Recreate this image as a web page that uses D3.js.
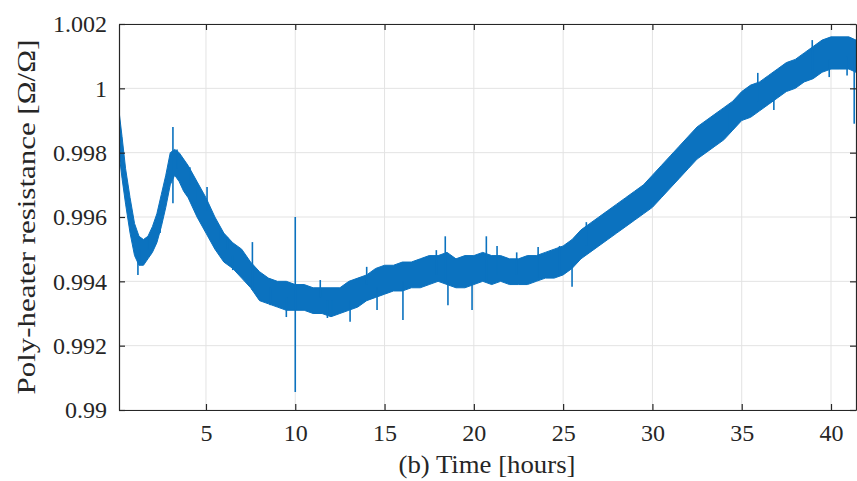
<!DOCTYPE html>
<html lang="en">
  <head>
    <meta charset="UTF-8">
    <script type="text/javascript" src="https://cdn.jsdelivr.net/npm/d3@7"></script>
    <style>
      body { margin: 0; background: #fff; }
    </style>
    <title>Poly-heater resistance</title>
  </head>
  <body>
    <script type="text/javascript">
      // Poly-heater resistance drift over time: noisy trace drawn as an envelope band

      let w = 857;
      let h = 481;
      let margin = { top: 24, right: 1, bottom: 71, left: 119 };

      // time [hours] with upper / lower edges of the noisy band
      let hours = [0.13, 0.3, 0.5, 0.75, 1.0, 1.25, 1.5, 1.75, 2.0, 2.25, 2.5, 2.75, 3.0, 3.25, 3.5,
                   3.75, 4.0, 4.5, 5.0, 5.5, 6.0, 6.5, 7.0, 7.5, 8.0, 8.5, 9.0, 9.5, 10.0, 10.5,
                   11.0, 11.5, 12.0, 12.5, 13.0, 13.5, 14.0, 14.5, 15.0, 15.5, 16.0, 16.5, 17.0,
                   17.5, 18.0, 18.5, 19.0, 19.5, 20.0, 20.5, 21.0, 21.5, 22.0, 22.5, 23.0, 23.5,
                   24.0, 24.5, 25.0, 25.5, 26.0, 26.5, 27.0, 27.5, 28.0, 28.5, 29.0, 29.5, 30.0,
                   30.5, 31.0, 31.5, 32.0, 32.5, 33.0, 33.5, 34.0, 34.5, 35.0, 35.5, 36.0, 36.5,
                   37.0, 37.5, 38.0, 38.5, 39.0, 39.5, 40.0, 40.5, 41.0, 41.4];
      let upper = [0.9993, 0.9985, 0.9975, 0.9966, 0.9958, 0.9954, 0.9953, 0.9954, 0.9957, 0.9961,
                   0.9967, 0.9973, 0.9980, 0.9981, 0.9980, 0.9978, 0.9976, 0.9971, 0.9966, 0.9960,
                   0.9955, 0.9952, 0.9950, 0.9946, 0.9943, 0.9941, 0.9940, 0.9940, 0.9939, 0.9939,
                   0.9938, 0.9938, 0.9938, 0.9938, 0.9940, 0.9941, 0.9942, 0.9944, 0.9945, 0.9945,
                   0.9946, 0.9946, 0.9947, 0.9948, 0.9948, 0.9949, 0.9947, 0.9948, 0.9948, 0.9949,
                   0.9948, 0.9948, 0.9947, 0.9947, 0.9948, 0.9948, 0.9949, 0.9950, 0.9951, 0.9953,
                   0.9956, 0.9958, 0.9960, 0.9962, 0.9964, 0.9966, 0.9968, 0.9970, 0.9973, 0.9976,
                   0.9979, 0.9982, 0.9985, 0.9988, 0.9990, 0.9992, 0.9994, 0.9996, 0.9999, 1.0001,
                   1.0002, 1.0004, 1.0006, 1.0008, 1.0009, 1.0011, 1.0013, 1.0015, 1.0016, 1.0016,
                   1.0016, 1.0015];
      let lower = [0.9980, 0.9972, 0.9964, 0.9955, 0.9948, 0.9945, 0.9945, 0.9947, 0.9949, 0.9952,
                   0.9957, 0.9963, 0.9970, 0.9973, 0.9971, 0.9968, 0.9966, 0.9960, 0.9955, 0.9950,
                   0.9946, 0.9944, 0.9941, 0.9938, 0.9934, 0.9933, 0.9932, 0.9931, 0.9931, 0.9931,
                   0.9930, 0.9930, 0.9929, 0.9930, 0.9931, 0.9932, 0.9934, 0.9935, 0.9936, 0.9937,
                   0.9937, 0.9938, 0.9938, 0.9939, 0.9940, 0.9939, 0.9938, 0.9938, 0.9939, 0.9940,
                   0.9939, 0.9940, 0.9939, 0.9939, 0.9939, 0.9940, 0.9941, 0.9941, 0.9942, 0.9944,
                   0.9947, 0.9949, 0.9951, 0.9953, 0.9955, 0.9957, 0.9959, 0.9961, 0.9963, 0.9966,
                   0.9969, 0.9972, 0.9975, 0.9978, 0.9980, 0.9982, 0.9984, 0.9987, 0.9990, 0.9991,
                   0.9993, 0.9995, 0.9997, 0.9999, 1.0000, 1.0002, 1.0003, 1.0005, 1.0006, 1.0006,
                   1.0006, 1.0005];

      // spikes sticking out of the band: time, low end, high end
      let spikeHours = [0.13, 1.19, 1.3, 1.75, 2.43, 2.8, 3.15, 3.38, 4.1, 4.4, 5.06, 5.8, 6.2, 6.5,
                        7.6, 8.6, 9.5, 10.0, 11.4, 11.8, 12.06, 13.07, 14.0, 14.58, 16.03, 17.9,
                        18.4, 18.55, 19.9, 20.7, 21.3, 22.4, 23.6, 24.8, 25.5, 26.3, 34.3, 35.9,
                        36.8, 38.95, 39.9, 40.9, 41.3];
      let spikeLow   = [0.9978, 0.9942, 0.99457, 0.9950, 0.9955, 0.9968, 0.99643, 0.9975, 0.9970,
                        0.99643, 0.9962, 0.9953, 0.9950, 0.99435, 0.99373, 0.99326, 0.99289,
                        0.99056, 0.9935, 0.99286, 0.99302, 0.99274, 0.9939, 0.99311, 0.9928,
                        0.9942, 0.9940, 0.99326, 0.99311, 0.9940, 0.9942, 0.9942, 0.9941, 0.9942,
                        0.99383, 0.9951, 0.9987, 0.9996, 0.99933, 1.0005, 1.00035, 1.0004, 0.9989];
      let spikeHigh  = [0.9993, 0.9948, 0.9950, 0.99538, 0.99582, 0.99724, 0.9988, 0.9981, 0.99755,
                        0.9970, 0.99693, 0.9956, 0.99538, 0.9948, 0.99522, 0.9938, 0.9935,
                        0.9960, 0.99404, 0.9934, 0.9934, 0.9934, 0.99445, 0.9938, 0.9940,
                        0.99497, 0.9954, 0.9940, 0.9940, 0.9954, 0.9951, 0.9949, 0.99507, 0.9951,
                        0.9945, 0.99584, 0.9993, 1.00048, 0.9999, 1.0015, 1.0009, 1.0010, 1.0010];

      let xTicks = [5, 10, 15, 20, 25, 30, 35, 40];
      let yTicks = [0.99, 0.992, 0.994, 0.996, 0.998, 1, 1.002];
      let yTickLabels = ['0.99', '0.992', '0.994', '0.996', '0.998', '1', '1.002'];

      let xScale = d3.scaleLinear()
                      .domain([0.13, 41.4])
                      .range([margin.left, w - margin.right]);

      let yScale = d3.scaleLinear()
                      .domain([0.99, 1.002])
                      .range([h - margin.bottom, margin.top]);

      let svg = d3.select('body')
                  .append('svg')
                  .attr('width', w)
                  .attr('height', h);

      let x0 = xScale.range()[0], x1 = xScale.range()[1];
      let y0 = yScale.range()[0], y1 = yScale.range()[1];
      let serif = "'Liberation Serif', 'DejaVu Serif', serif";
      let ink = '#262626';

      // Grid
      svg.append('g')
          .selectAll('line')
          .data(xTicks)
          .enter()
          .append('line')
          .attr('x1', d => xScale(d)).attr('x2', d => xScale(d))
          .attr('y1', y1).attr('y2', y0)
          .attr('stroke', '#e3e3e3').attr('stroke-width', 1);

      svg.append('g')
          .selectAll('line')
          .data(yTicks)
          .enter()
          .append('line')
          .attr('x1', x0).attr('x2', x1)
          .attr('y1', d => yScale(d)).attr('y2', d => yScale(d))
          .attr('stroke', '#e3e3e3').attr('stroke-width', 1);

      // Data band
      let band = hours.map((t, i) => ({ t: t, hi: upper[i], lo: lower[i] }));
      let blue = '#0b72bf';

      svg.append('clipPath').attr('id', 'clip')
          .append('rect')
          .attr('x', x0).attr('y', y1)
          .attr('width', x1 - x0).attr('height', y0 - y1);

      let plot = svg.append('g').attr('clip-path', 'url(#clip)');

      plot.append('path')
          .datum(band)
          .attr('d', d3.area()
                       .x(d => xScale(d.t))
                       .y0(d => yScale(d.lo))
                       .y1(d => yScale(d.hi)))
          .attr('fill', blue)
          .attr('stroke', blue)
          .attr('stroke-width', 1);

      plot.selectAll('line.spike')
          .data(spikeHours)
          .enter()
          .append('line')
          .attr('class', 'spike')
          .attr('x1', d => xScale(d)).attr('x2', d => xScale(d))
          .attr('y1', (d, i) => yScale(spikeLow[i]))
          .attr('y2', (d, i) => yScale(spikeHigh[i]))
          .attr('stroke', blue)
          .attr('stroke-width', 1.6);

      // Axes: box with inward ticks on all four sides
      let tick = 6;
      let styleAxis = g => g.selectAll('line, path').attr('stroke', ink).attr('stroke-width', 1.2);
      let styleText = g => g.selectAll('text').attr('font-size', 24).attr('font-family', serif).attr('fill', ink);

      svg.append('g')
          .attr('transform', 'translate(0,' + y0 + ')')
          .call(d3.axisBottom(xScale).tickValues(xTicks).tickSizeInner(-tick).tickSizeOuter(0).tickPadding(14))
          .call(styleText).call(styleAxis);

      svg.append('g')
          .attr('transform', 'translate(0,' + y1 + ')')
          .call(d3.axisTop(xScale).tickValues(xTicks).tickSizeInner(-tick).tickSizeOuter(0).tickFormat(''))
          .call(styleAxis);

      svg.append('g')
          .attr('transform', 'translate(' + x0 + ',0)')
          .call(d3.axisLeft(yScale).tickValues(yTicks).tickSizeInner(-tick).tickSizeOuter(0).tickPadding(12)
                  .tickFormat((d, i) => yTickLabels[i]))
          .call(styleText).call(styleAxis);

      svg.append('g')
          .attr('transform', 'translate(' + x1 + ',0)')
          .call(d3.axisRight(yScale).tickValues(yTicks).tickSizeInner(-tick).tickSizeOuter(0).tickFormat(''))
          .call(styleAxis);

      // Axis labels
      svg.append('text')
          .attr('x', 487)
          .attr('y', 473)
          .attr('text-anchor', 'middle')
          .attr('font-family', serif)
          .attr('font-size', 25)
          .attr('fill', ink)
          .attr('textLength', 177)
          .attr('lengthAdjust', 'spacingAndGlyphs')
          .text('(b) Time [hours]');

      svg.append('text')
          .attr('transform', 'translate(35,' + (y0 + y1) / 2 + ') rotate(-90)')
          .attr('text-anchor', 'middle')
          .attr('font-family', serif)
          .attr('font-size', 25)
          .attr('fill', ink)
          .attr('textLength', 355)
          .attr('lengthAdjust', 'spacingAndGlyphs')
          .text('Poly-heater resistance [\u03A9/\u03A9]');
    </script>
  </body>
</html>
